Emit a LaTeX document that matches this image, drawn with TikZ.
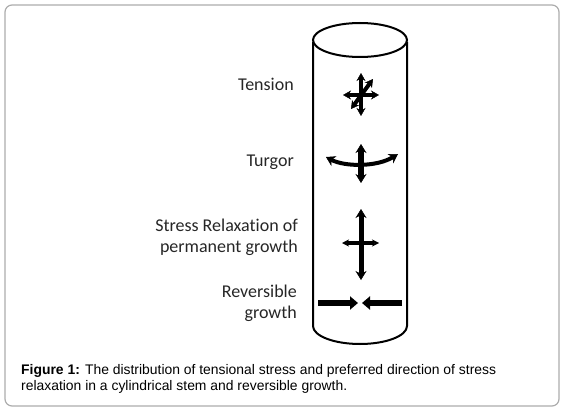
\documentclass[tikz,border=0pt]{standalone}
\usepackage{fontspec}
\setmainfont[Ligatures={NoCommon}]{Carlito}
\newfontfamily\capfont{Liberation Sans}
\usetikzlibrary{arrows.meta}
\tikzset{
  lbl/.style={anchor=base east, align=right, font=\fontsize{18}{20.5}\selectfont, inner sep=0pt, text=black!85},
  captxt/.style={anchor=base west, inner sep=0pt, font=\capfont\fontsize{13.9}{16}\selectfont},
  stem/.style={line width=2pt, black},
  darr/.style={line width=5.5pt, {Stealth[length=9pt,width=11pt,line width=0.5pt]}-{Stealth[length=9pt,width=11pt,line width=0.5pt]}},
  sarr/.style={line width=4.5pt, {Stealth[length=8pt,width=9pt,line width=0.5pt]}-{Stealth[length=8pt,width=9pt,line width=0.5pt]}},
  rarr/.style={line width=6pt, -{Triangle[length=8pt,width=13pt]}}
}
\begin{document}
\begin{tikzpicture}[x=1pt,y=-1pt]
\useasboundingbox (0,0) rectangle (568,412);
\draw[gray!65, line width=1.2pt, rounded corners=7pt] (5,5) rectangle (559,406);
% cylinder
\draw[stem] (360,40) ellipse [x radius=47, y radius=17];
\draw[stem] (313,42) -- (313,326) arc[start angle=180, end angle=0, x radius=47, y radius=18] -- (407,42);
% labels
\node[lbl] (tension) at (294,91) {Tension};
\node[lbl] (turgor) at (294,166) {Turgor};
\node[lbl] (stress) at (298,252) {Stress Relaxation of\\permanent growth};
\node[lbl] (rev) at (297,318) {Reversible\\growth};
% tension star
\draw[sarr] (361,73) -- (361,116);
\draw[sarr, line width=4pt] (343,95) -- (379,95);
\draw[sarr, line width=4pt] (351,109) -- (373,79);
% turgor
\draw[darr, line width=6.5pt] (361,144) -- (361,183);
\draw[darr, line width=4pt] (326,157) .. controls (345,167) and (377,167) .. (398,154);
% stress relaxation
\draw[darr, line width=5pt] (361,209) -- (361,280);
\draw[line width=3.2pt, {Stealth[length=7pt,width=7pt,line width=0.5pt]}-{Stealth[length=7pt,width=7pt,line width=0.5pt]}] (342,243) -- (379,243);
% reversible
\draw[rarr] (318,303) -- (358,303);
\draw[rarr] (402,303) -- (362,303);
% caption
\node[captxt] (cap1) at (21,374) {\textbf{Figure 1:} The distribution of tensional stress and preferred direction of stress};
\node[captxt] (cap2) at (21,390) {relaxation in a cylindrical stem and reversible growth.};
\end{tikzpicture}
\end{document}
